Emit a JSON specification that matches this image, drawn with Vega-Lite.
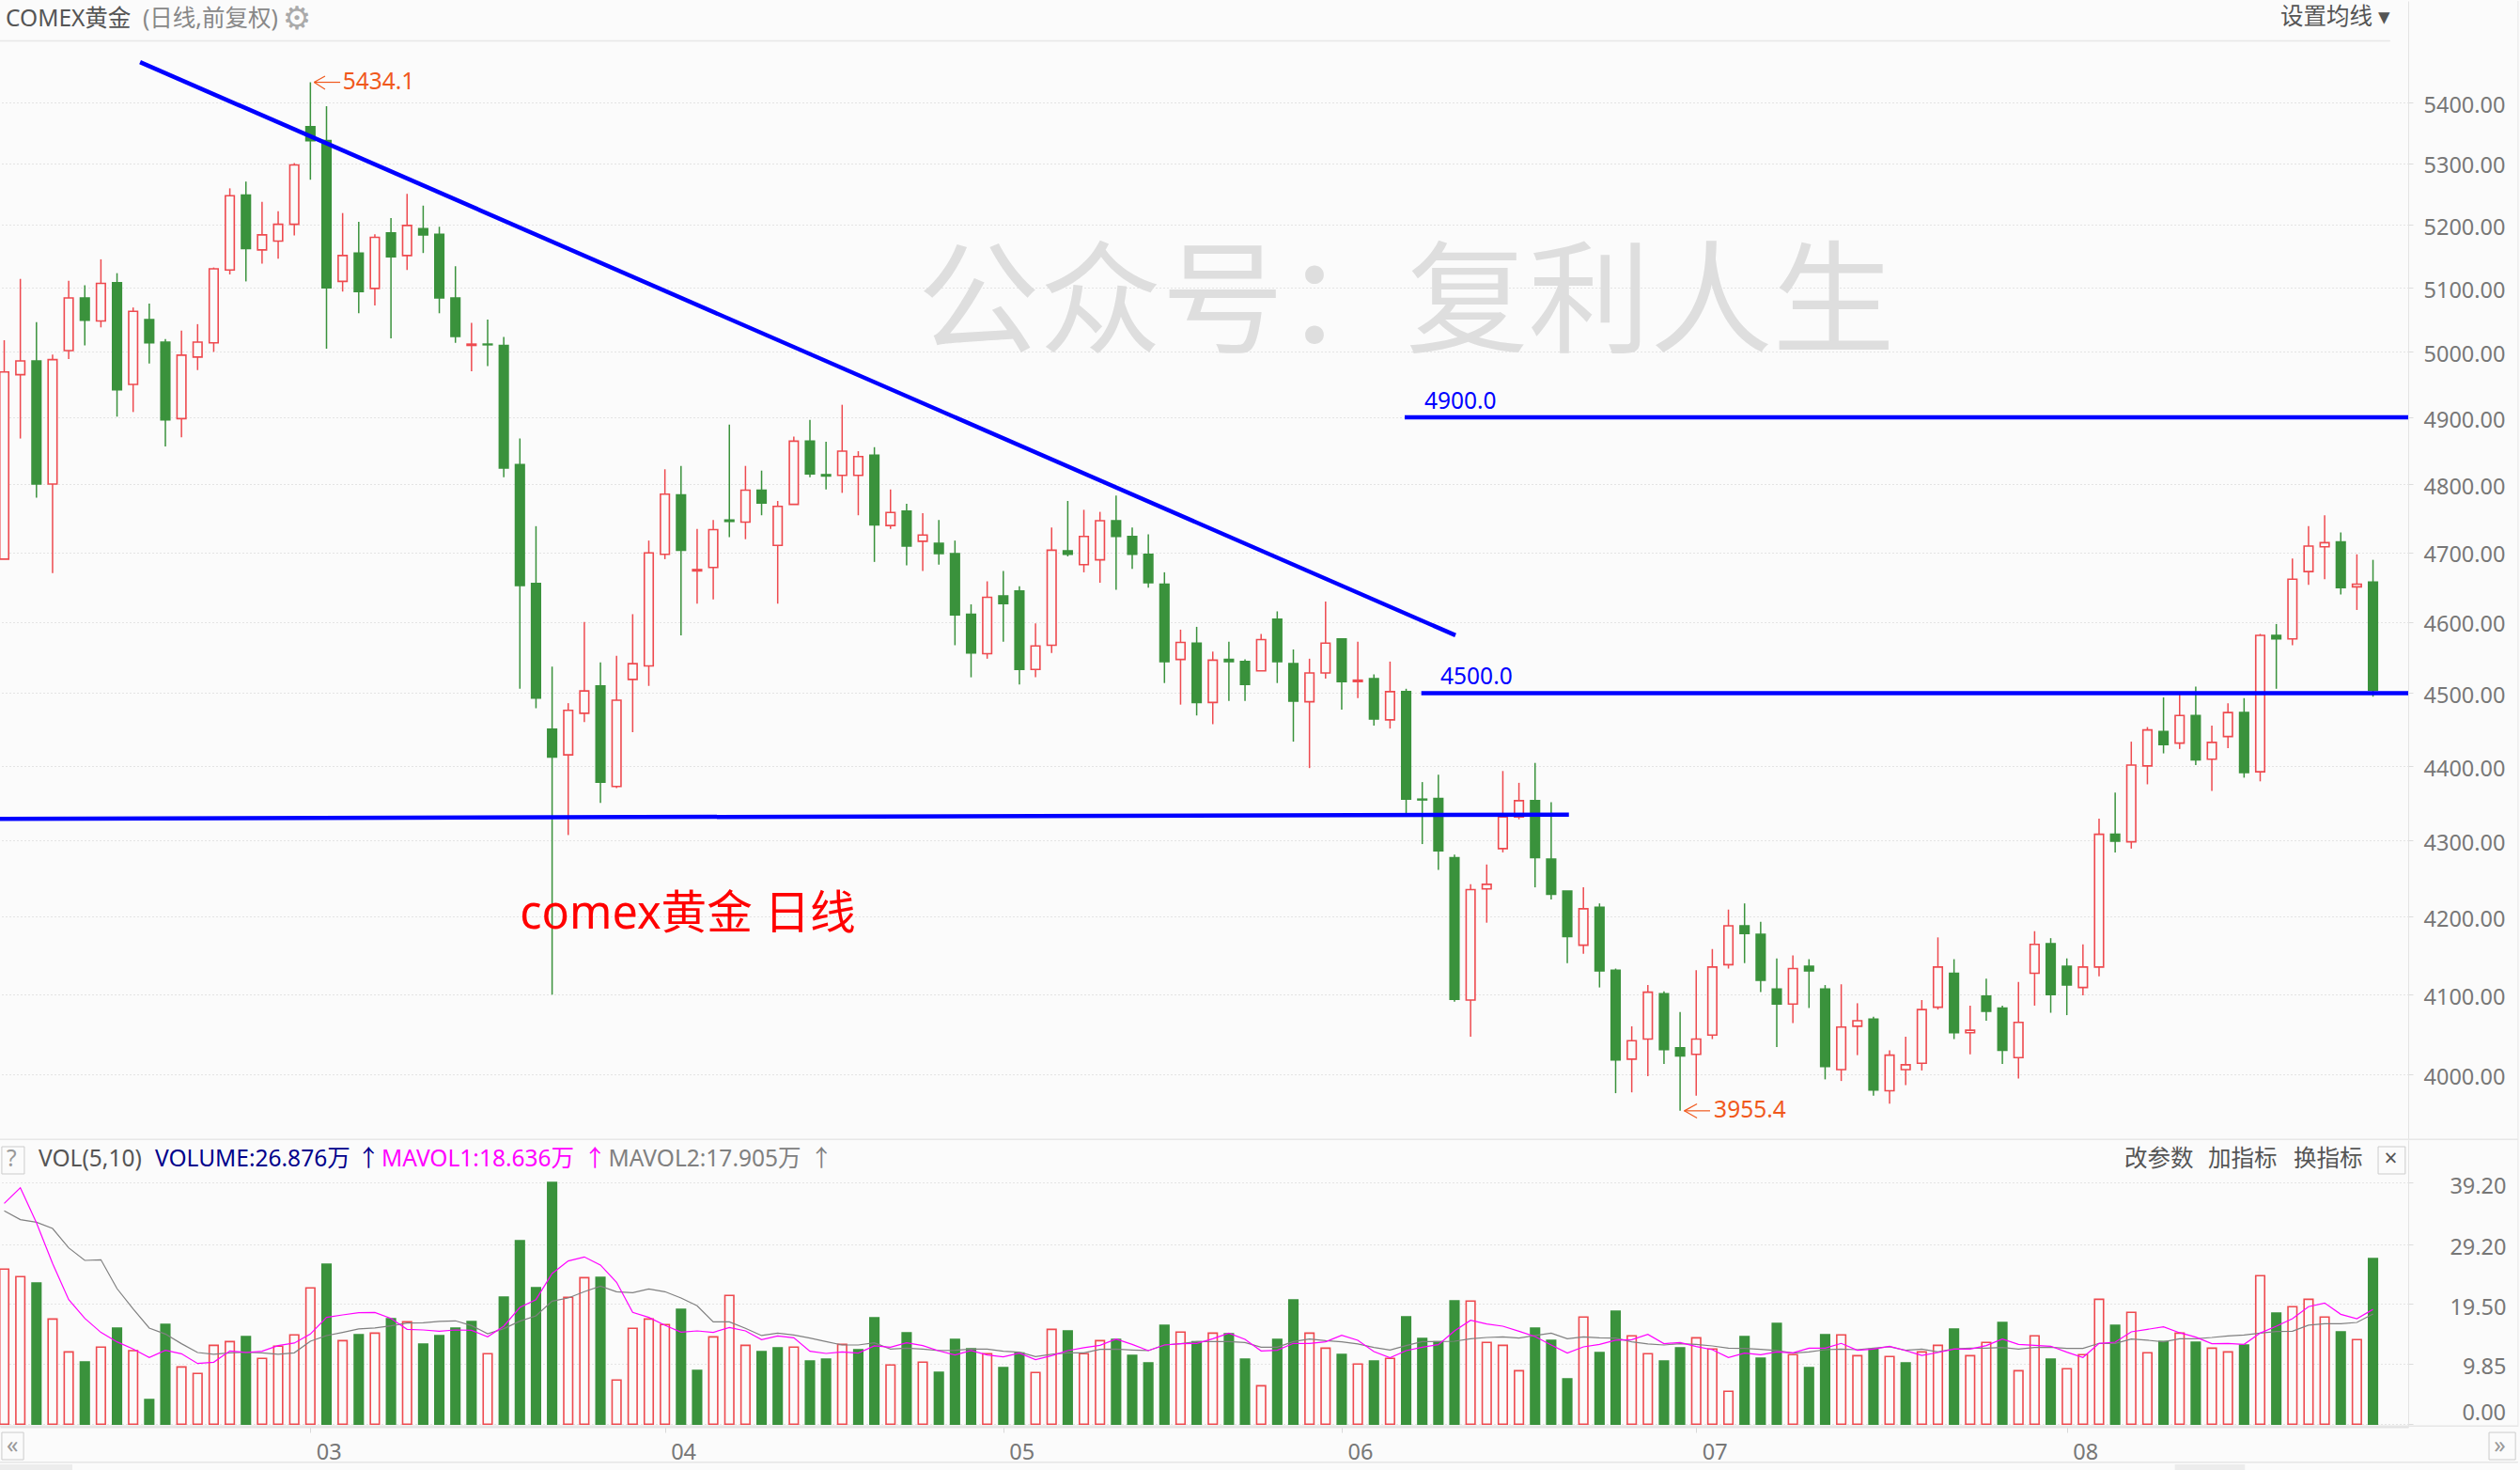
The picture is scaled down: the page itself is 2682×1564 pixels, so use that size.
{"$schema":"https://vega.github.io/schema/vega-lite/v6.json","background":"#fbfbfb","padding":0,"spacing":0,"bounds":"flush","config":{"view":{"stroke":null},"text":{"font":"Noto Sans, Noto Sans CJK SC"},"axis":{"labelFont":"Noto Sans"},"concat":{"spacing":0}},
"datasets":{"bars":[
{"i":0,"o":4690,"h":5018,"l":4690,"c":4969,"d":"up","vd":"up","v":25.17,"m1":35.84,"m2":34.62},
{"i":1,"o":4965,"h":5114,"l":4868,"c":4986,"d":"up","vd":"up","v":23.95,"m1":38.38,"m2":33.2},
{"i":2,"o":4986,"h":5046,"l":4780,"c":4800,"d":"down","vd":"down","v":22.93,"m1":32.69,"m2":32.79},
{"i":3,"o":4800,"h":4996,"l":4670,"c":4988,"d":"up","vd":"up","v":17.08,"m1":26.08,"m2":31.77},
{"i":4,"o":5002,"h":5111,"l":4989,"c":5084,"d":"up","vd":"up","v":11.74,"m1":20.23,"m2":28.62},
{"i":5,"o":5084,"h":5104,"l":5010,"c":5049,"d":"down","vd":"down","v":10.12,"m1":17.18,"m2":26.59},
{"i":6,"o":5048,"h":5145,"l":5038,"c":5107,"d":"up","vd":"up","v":12.51,"m1":14.9,"m2":26.69},
{"i":7,"o":5108,"h":5123,"l":4901,"c":4942,"d":"down","vd":"down","v":15.61,"m1":13.37,"m2":22.01},
{"i":8,"o":4950,"h":5069,"l":4908,"c":5063,"d":"up","vd":"up","v":11.95,"m1":12.2,"m2":18.71},
{"i":9,"o":5050,"h":5075,"l":4982,"c":5014,"d":"down","vd":"down","v":4.02,"m1":10.83,"m2":15.61},
{"i":10,"o":5015,"h":5020,"l":4856,"c":4896,"d":"down","vd":"down","v":16.22,"m1":12.0,"m2":14.64},
{"i":11,"o":4898,"h":5033,"l":4870,"c":4995,"d":"up","vd":"up","v":9.3,"m1":11.44,"m2":13.07},
{"i":12,"o":4992,"h":5043,"l":4972,"c":5015,"d":"up","vd":"up","v":8.24,"m1":9.86,"m2":11.64},
{"i":13,"o":5014,"h":5132,"l":5000,"c":5130,"d":"up","vd":"up","v":12.81,"m1":10.07,"m2":11.34},
{"i":14,"o":5128,"h":5259,"l":5121,"c":5247,"d":"up","vd":"up","v":13.42,"m1":11.9,"m2":11.59},
{"i":15,"o":5248,"h":5270,"l":5110,"c":5162,"d":"down","vd":"down","v":14.24,"m1":11.64,"m2":11.69},
{"i":16,"o":5160,"h":5237,"l":5138,"c":5184,"d":"up","vd":"up","v":10.68,"m1":11.85,"m2":11.59},
{"i":17,"o":5174,"h":5222,"l":5146,"c":5201,"d":"up","vd":"up","v":12.66,"m1":12.76,"m2":11.34},
{"i":18,"o":5201,"h":5300,"l":5183,"c":5297,"d":"up","vd":"up","v":14.49,"m1":13.17,"m2":11.59},
{"i":19,"o":5360,"h":5434.1,"l":5273,"c":5337,"d":"down","vd":"up","v":22.12,"m1":14.64,"m2":13.47},
{"i":20,"o":5337,"h":5394,"l":5005,"c":5100,"d":"down","vd":"down","v":25.98,"m1":17.34,"m2":14.39},
{"i":21,"o":5110,"h":5219,"l":5094,"c":5151,"d":"up","vd":"up","v":13.57,"m1":17.74,"m2":14.9},
{"i":22,"o":5155,"h":5205,"l":5060,"c":5094,"d":"down","vd":"down","v":14.54,"m1":18.1,"m2":15.46},
{"i":23,"o":5099,"h":5185,"l":5072,"c":5180,"d":"up","vd":"up","v":14.79,"m1":18.15,"m2":15.61},
{"i":24,"o":5187,"h":5211,"l":5021,"c":5149,"d":"down","vd":"down","v":17.13,"m1":17.18,"m2":15.96},
{"i":25,"o":5151,"h":5250,"l":5128,"c":5199,"d":"up","vd":"up","v":16.62,"m1":15.4,"m2":16.42},
{"i":26,"o":5194,"h":5231,"l":5155,"c":5184,"d":"down","vd":"down","v":13.02,"m1":15.3,"m2":16.47},
{"i":27,"o":5185,"h":5197,"l":5060,"c":5084,"d":"down","vd":"down","v":14.39,"m1":15.1,"m2":16.68},
{"i":28,"o":5084,"h":5134,"l":5014,"c":5024,"d":"down","vd":"down","v":15.61,"m1":15.3,"m2":16.78},
{"i":29,"o":5010,"h":5045,"l":4970,"c":5012,"d":"up","vd":"down","v":16.68,"m1":15.25,"m2":16.01},
{"i":30,"o":5012,"h":5050,"l":4978,"c":5011,"d":"down","vd":"up","v":11.44,"m1":14.18,"m2":14.69},
{"i":31,"o":5010,"h":5023,"l":4810,"c":4824,"d":"down","vd":"down","v":20.64,"m1":15.91,"m2":15.51},
{"i":32,"o":4829,"h":4868,"l":4506,"c":4652,"d":"down","vd":"down","v":29.79,"m1":18.96,"m2":16.73},
{"i":33,"o":4655,"h":4738,"l":4479,"c":4493,"d":"down","vd":"down","v":22.17,"m1":20.23,"m2":17.59},
{"i":34,"o":4450,"h":4537,"l":4100,"c":4412,"d":"down","vd":"down","v":39.25,"m1":24.45,"m2":19.98},
{"i":35,"o":4415,"h":4486,"l":4307,"c":4476,"d":"up","vd":"up","v":20.59,"m1":26.49,"m2":20.49},
{"i":36,"o":4472,"h":4600,"l":4460,"c":4503,"d":"up","vd":"up","v":23.79,"m1":27.15,"m2":21.51},
{"i":37,"o":4510,"h":4543,"l":4350,"c":4378,"d":"down","vd":"down","v":23.84,"m1":25.83,"m2":22.42},
{"i":38,"o":4372,"h":4552,"l":4370,"c":4490,"d":"up","vd":"up","v":7.17,"m1":23.03,"m2":21.51},
{"i":39,"o":4519,"h":4611,"l":4446,"c":4541,"d":"up","vd":"up","v":15.56,"m1":18.15,"m2":21.35},
{"i":40,"o":4538,"h":4717,"l":4510,"c":4699,"d":"up","vd":"up","v":17.08,"m1":17.34,"m2":21.96},
{"i":41,"o":4697,"h":4822,"l":4690,"c":4785,"d":"up","vd":"up","v":16.17,"m1":16.07,"m2":21.51},
{"i":42,"o":4784,"h":4827,"l":4581,"c":4703,"d":"down","vd":"down","v":18.66,"m1":14.95,"m2":20.49},
{"i":43,"o":4673,"h":4734,"l":4626,"c":4675,"d":"up","vd":"down","v":8.74,"m1":15.15,"m2":19.22},
{"i":44,"o":4678,"h":4747,"l":4632,"c":4733,"d":"up","vd":"up","v":14.18,"m1":14.9,"m2":16.62},
{"i":45,"o":4747,"h":4889,"l":4722,"c":4745,"d":"down","vd":"up","v":20.9,"m1":15.71,"m2":16.62},
{"i":46,"o":4744,"h":4827,"l":4719,"c":4791,"d":"up","vd":"up","v":12.81,"m1":15.15,"m2":15.56},
{"i":47,"o":4791,"h":4820,"l":4754,"c":4772,"d":"down","vd":"down","v":11.79,"m1":13.73,"m2":14.39},
{"i":48,"o":4710,"h":4775,"l":4626,"c":4767,"d":"up","vd":"down","v":12.41,"m1":14.34,"m2":14.79},
{"i":49,"o":4770,"h":4871,"l":4770,"c":4864,"d":"up","vd":"up","v":12.51,"m1":14.03,"m2":14.49},
{"i":50,"o":4864,"h":4896,"l":4810,"c":4815,"d":"down","vd":"down","v":10.27,"m1":11.85,"m2":13.98},
{"i":51,"o":4814,"h":4863,"l":4792,"c":4812,"d":"down","vd":"down","v":10.57,"m1":11.49,"m2":13.42},
{"i":52,"o":4813,"h":4919,"l":4787,"c":4849,"d":"up","vd":"up","v":12.96,"m1":11.74,"m2":12.86},
{"i":53,"o":4813,"h":4849,"l":4754,"c":4841,"d":"up","vd":"down","v":12.1,"m1":11.54,"m2":12.86},
{"i":54,"o":4843,"h":4855,"l":4686,"c":4740,"d":"down","vd":"down","v":17.29,"m1":12.71,"m2":13.22},
{"i":55,"o":4739,"h":4792,"l":4734,"c":4758,"d":"up","vd":"up","v":9.61,"m1":12.51,"m2":12.2},
{"i":56,"o":4760,"h":4771,"l":4681,"c":4709,"d":"down","vd":"down","v":14.85,"m1":13.22,"m2":12.35},
{"i":57,"o":4716,"h":4757,"l":4673,"c":4725,"d":"up","vd":"up","v":10.07,"m1":12.76,"m2":12.2},
{"i":58,"o":4713,"h":4747,"l":4682,"c":4698,"d":"down","vd":"down","v":8.44,"m1":11.9,"m2":11.95},
{"i":59,"o":4698,"h":4717,"l":4567,"c":4610,"d":"down","vd":"down","v":13.78,"m1":11.24,"m2":12.0},
{"i":60,"o":4611,"h":4625,"l":4522,"c":4556,"d":"down","vd":"down","v":12.25,"m1":11.95,"m2":12.2},
{"i":61,"o":4555,"h":4658,"l":4548,"c":4635,"d":"up","vd":"up","v":11.44,"m1":11.24,"m2":12.2},
{"i":62,"o":4637,"h":4673,"l":4572,"c":4626,"d":"down","vd":"down","v":9.2,"m1":10.93,"m2":11.85},
{"i":63,"o":4644,"h":4651,"l":4512,"c":4533,"d":"down","vd":"down","v":11.54,"m1":11.54,"m2":11.69},
{"i":64,"o":4533,"h":4598,"l":4522,"c":4566,"d":"up","vd":"up","v":8.39,"m1":10.47,"m2":10.98},
{"i":65,"o":4567,"h":4736,"l":4556,"c":4703,"d":"up","vd":"up","v":15.4,"m1":11.13,"m2":11.34},
{"i":66,"o":4702,"h":4775,"l":4694,"c":4697,"d":"down","vd":"down","v":15.15,"m1":11.95,"m2":11.59},
{"i":67,"o":4682,"h":4762,"l":4671,"c":4723,"d":"up","vd":"up","v":11.44,"m1":12.41,"m2":11.59},
{"i":68,"o":4689,"h":4759,"l":4656,"c":4746,"d":"up","vd":"up","v":13.57,"m1":12.81,"m2":12.15},
{"i":69,"o":4746,"h":4783,"l":4646,"c":4723,"d":"down","vd":"down","v":13.78,"m1":13.83,"m2":12.2},
{"i":70,"o":4723,"h":4736,"l":4676,"c":4697,"d":"down","vd":"down","v":11.18,"m1":12.96,"m2":12.05},
{"i":71,"o":4697,"h":4726,"l":4649,"c":4656,"d":"down","vd":"down","v":9.96,"m1":11.95,"m2":11.95},
{"i":72,"o":4654,"h":4671,"l":4514,"c":4544,"d":"down","vd":"down","v":16.07,"m1":12.86,"m2":12.86},
{"i":73,"o":4547,"h":4589,"l":4484,"c":4571,"d":"up","vd":"up","v":14.95,"m1":13.07,"m2":13.07},
{"i":74,"o":4570,"h":4593,"l":4469,"c":4487,"d":"down","vd":"down","v":13.37,"m1":13.12,"m2":13.42},
{"i":75,"o":4487,"h":4558,"l":4457,"c":4546,"d":"up","vd":"up","v":14.79,"m1":13.88,"m2":13.42},
{"i":76,"o":4547,"h":4572,"l":4489,"c":4544,"d":"down","vd":"down","v":14.69,"m1":14.79,"m2":13.42},
{"i":77,"o":4544,"h":4547,"l":4489,"c":4512,"d":"down","vd":"down","v":10.57,"m1":13.78,"m2":13.27},
{"i":78,"o":4531,"h":4583,"l":4531,"c":4575,"d":"up","vd":"up","v":6.25,"m1":11.9,"m2":12.51},
{"i":79,"o":4604,"h":4615,"l":4514,"c":4544,"d":"down","vd":"down","v":13.78,"m1":12.0,"m2":12.51},
{"i":80,"o":4541,"h":4561,"l":4433,"c":4489,"d":"down","vd":"down","v":20.18,"m1":13.12,"m2":13.42},
{"i":81,"o":4488,"h":4548,"l":4397,"c":4528,"d":"up","vd":"up","v":14.79,"m1":13.12,"m2":13.83},
{"i":82,"o":4528,"h":4629,"l":4520,"c":4570,"d":"up","vd":"up","v":12.35,"m1":13.37,"m2":13.57},
{"i":83,"o":4576,"h":4577,"l":4477,"c":4516,"d":"down","vd":"down","v":11.34,"m1":14.44,"m2":13.37},
{"i":84,"o":4516,"h":4572,"l":4493,"c":4518,"d":"up","vd":"up","v":9.76,"m1":13.63,"m2":13.02},
{"i":85,"o":4520,"h":4526,"l":4455,"c":4464,"d":"down","vd":"down","v":10.27,"m1":11.79,"m2":12.46},
{"i":86,"o":4463,"h":4544,"l":4451,"c":4502,"d":"up","vd":"up","v":10.68,"m1":10.78,"m2":12.05},
{"i":87,"o":4502,"h":4506,"l":4336,"c":4355,"d":"down","vd":"down","v":17.44,"m1":11.95,"m2":12.76},
{"i":88,"o":4355,"h":4378,"l":4295,"c":4354,"d":"down","vd":"down","v":13.93,"m1":12.51,"m2":13.42},
{"i":89,"o":4356,"h":4388,"l":4261,"c":4286,"d":"down","vd":"down","v":13.37,"m1":12.91,"m2":13.42},
{"i":90,"o":4277,"h":4281,"l":4091,"c":4094,"d":"down","vd":"down","v":20.03,"m1":15.15,"m2":13.47},
{"i":91,"o":4093,"h":4242,"l":4047,"c":4235,"d":"up","vd":"up","v":19.98,"m1":16.88,"m2":13.88},
{"i":92,"o":4236,"h":4268,"l":4192,"c":4242,"d":"up","vd":"up","v":13.27,"m1":16.27,"m2":14.08},
{"i":93,"o":4289,"h":4393,"l":4284,"c":4331,"d":"up","vd":"up","v":12.81,"m1":15.91,"m2":14.18},
{"i":94,"o":4331,"h":4377,"l":4328,"c":4353,"d":"up","vd":"up","v":8.69,"m1":15.1,"m2":13.98},
{"i":95,"o":4353,"h":4404,"l":4238,"c":4277,"d":"down","vd":"down","v":15.61,"m1":14.24,"m2":14.39},
{"i":96,"o":4275,"h":4351,"l":4222,"c":4229,"d":"down","vd":"down","v":13.63,"m1":12.86,"m2":14.79},
{"i":97,"o":4233,"h":4233,"l":4140,"c":4174,"d":"down","vd":"down","v":7.37,"m1":11.54,"m2":13.88},
{"i":98,"o":4163,"h":4238,"l":4152,"c":4210,"d":"up","vd":"up","v":17.39,"m1":12.56,"m2":14.18},
{"i":99,"o":4212,"h":4217,"l":4109,"c":4130,"d":"down","vd":"down","v":11.64,"m1":12.96,"m2":14.03},
{"i":100,"o":4131,"h":4133,"l":3977,"c":4018,"d":"down","vd":"down","v":18.35,"m1":13.63,"m2":13.98},
{"i":101,"o":4019,"h":4060,"l":3978,"c":4042,"d":"up","vd":"up","v":14.34,"m1":13.73,"m2":13.37},
{"i":102,"o":4044,"h":4112,"l":3998,"c":4103,"d":"up","vd":"up","v":11.44,"m1":14.59,"m2":13.02},
{"i":103,"o":4101,"h":4104,"l":4013,"c":4031,"d":"down","vd":"down","v":10.27,"m1":13.07,"m2":12.86},
{"i":104,"o":4033,"h":4078,"l":3955.4,"c":4023,"d":"down","vd":"down","v":12.41,"m1":13.27,"m2":13.07},
{"i":105,"o":4025,"h":4131,"l":3974,"c":4044,"d":"up","vd":"up","v":14.03,"m1":12.61,"m2":12.96},
{"i":106,"o":4049,"h":4158,"l":4044,"c":4135,"d":"up","vd":"up","v":12.2,"m1":12.1,"m2":12.71},
{"i":107,"o":4138,"h":4209,"l":4133,"c":4188,"d":"up","vd":"up","v":5.34,"m1":10.83,"m2":12.35},
{"i":108,"o":4188,"h":4217,"l":4140,"c":4178,"d":"down","vd":"down","v":14.24,"m1":11.54,"m2":12.3},
{"i":109,"o":4177,"h":4193,"l":4103,"c":4118,"d":"down","vd":"down","v":10.73,"m1":11.29,"m2":12.15},
{"i":110,"o":4107,"h":4146,"l":4034,"c":4088,"d":"down","vd":"down","v":16.37,"m1":11.74,"m2":11.95},
{"i":111,"o":4088,"h":4150,"l":4064,"c":4133,"d":"up","vd":"up","v":11.29,"m1":11.59,"m2":11.54},
{"i":112,"o":4136,"h":4145,"l":4083,"c":4130,"d":"down","vd":"down","v":9.2,"m1":12.35,"m2":11.74},
{"i":113,"o":4107,"h":4112,"l":3994,"c":4010,"d":"down","vd":"down","v":14.54,"m1":12.35,"m2":12.1},
{"i":114,"o":4006,"h":4113,"l":3992,"c":4059,"d":"up","vd":"up","v":14.49,"m1":13.12,"m2":12.2},
{"i":115,"o":4060,"h":4089,"l":4024,"c":4067,"d":"up","vd":"up","v":11.13,"m1":12.0,"m2":12.1},
{"i":116,"o":4069,"h":4072,"l":3974,"c":3981,"d":"down","vd":"down","v":12.15,"m1":12.2,"m2":12.35},
{"i":117,"o":3980,"h":4030,"l":3964,"c":4024,"d":"up","vd":"up","v":10.98,"m1":12.66,"m2":12.56},
{"i":118,"o":4006,"h":4047,"l":3987,"c":4012,"d":"up","vd":"down","v":9.96,"m1":11.95,"m2":12.0},
{"i":119,"o":4014,"h":4093,"l":4005,"c":4081,"d":"up","vd":"up","v":11.74,"m1":11.18,"m2":12.2},
{"i":120,"o":4084,"h":4173,"l":4081,"c":4135,"d":"up","vd":"up","v":12.81,"m1":11.64,"m2":11.74},
{"i":121,"o":4127,"h":4145,"l":4044,"c":4052,"d":"down","vd":"down","v":15.46,"m1":12.2,"m2":12.25},
{"i":122,"o":4052,"h":4086,"l":4025,"c":4055,"d":"up","vd":"up","v":11.13,"m1":12.2,"m2":12.35},
{"i":123,"o":4098,"h":4120,"l":4067,"c":4079,"d":"down","vd":"up","v":13.27,"m1":12.76,"m2":12.35},
{"i":124,"o":4083,"h":4086,"l":4013,"c":4030,"d":"down","vd":"down","v":16.52,"m1":13.83,"m2":12.46},
{"i":125,"o":4021,"h":4116,"l":3995,"c":4065,"d":"up","vd":"up","v":8.69,"m1":12.96,"m2":12.2},
{"i":126,"o":4127,"h":4181,"l":4086,"c":4164,"d":"up","vd":"up","v":14.34,"m1":12.81,"m2":12.46},
{"i":127,"o":4165,"h":4172,"l":4077,"c":4100,"d":"down","vd":"down","v":10.57,"m1":12.66,"m2":12.51},
{"i":128,"o":4136,"h":4146,"l":4074,"c":4112,"d":"down","vd":"up","v":9.0,"m1":11.69,"m2":12.3},
{"i":129,"o":4109,"h":4164,"l":4099,"c":4135,"d":"up","vd":"up","v":11.29,"m1":10.83,"m2":12.3},
{"i":130,"o":4135,"h":4329,"l":4123,"c":4308,"d":"up","vd":"up","v":20.28,"m1":13.12,"m2":13.12},
{"i":131,"o":4308,"h":4364,"l":4284,"c":4299,"d":"down","vd":"down","v":16.07,"m1":13.32,"m2":13.12},
{"i":132,"o":4298,"h":4433,"l":4289,"c":4401,"d":"up","vd":"up","v":18.15,"m1":15.0,"m2":13.83},
{"i":133,"o":4400,"h":4453,"l":4375,"c":4449,"d":"up","vd":"up","v":11.59,"m1":15.4,"m2":13.63},
{"i":134,"o":4447,"h":4494,"l":4417,"c":4429,"d":"down","vd":"down","v":13.42,"m1":15.81,"m2":13.37},
{"i":135,"o":4431,"h":4498,"l":4423,"c":4469,"d":"up","vd":"up","v":14.79,"m1":14.85,"m2":13.88},
{"i":136,"o":4469,"h":4509,"l":4401,"c":4408,"d":"down","vd":"down","v":13.32,"m1":14.13,"m2":13.88},
{"i":137,"o":4409,"h":4455,"l":4366,"c":4432,"d":"up","vd":"up","v":12.35,"m1":13.07,"m2":14.08},
{"i":138,"o":4440,"h":4486,"l":4424,"c":4473,"d":"up","vd":"up","v":11.74,"m1":13.12,"m2":14.34},
{"i":139,"o":4473,"h":4493,"l":4384,"c":4391,"d":"down","vd":"down","v":12.86,"m1":12.96,"m2":14.49},
{"i":140,"o":4392,"h":4583,"l":4379,"c":4581,"d":"up","vd":"up","v":24.1,"m1":14.79,"m2":14.79},
{"i":141,"o":4581,"h":4597,"l":4506,"c":4576,"d":"down","vd":"down","v":18.05,"m1":15.91,"m2":15.05},
{"i":142,"o":4576,"h":4691,"l":4567,"c":4661,"d":"up","vd":"up","v":19.07,"m1":17.13,"m2":15.1},
{"i":143,"o":4672,"h":4738,"l":4653,"c":4709,"d":"up","vd":"up","v":20.28,"m1":19.07,"m2":16.07},
{"i":144,"o":4708,"h":4754,"l":4661,"c":4714,"d":"up","vd":"up","v":17.39,"m1":19.67,"m2":16.32},
{"i":145,"o":4715,"h":4729,"l":4639,"c":4649,"d":"down","vd":"down","v":15.0,"m1":17.84,"m2":16.32},
{"i":146,"o":4650,"h":4697,"l":4617,"c":4654,"d":"up","vd":"up","v":13.73,"m1":17.13,"m2":16.52},
{"i":147,"o":4657,"h":4689,"l":4495,"c":4504,"d":"down","vd":"down","v":26.876,"m1":18.636,"m2":17.905}
]},
"vconcat":[
{"width":2563,"height":1212,"resolve":{"scale":{"color":"independent"}},"layer":[
{"data":{"values":[{"t":"公众号：复利人生","i":87,"p":5071}]},"mark":{"type":"text","font":"Noto Sans CJK SC","fontSize":130,"color":"#dedede","align":"center","baseline":"middle"},"encoding":{"x":{"field":"i","type":"quantitative","scale":{"domain":[-0.2624,149.184],"nice":false,"zero":false,"padding":0},"axis":null},"y":{"field":"p","type":"quantitative","scale":{"type":"log","domain":[3919.8,5572.3],"nice":false},"axis":{"orient":"right","title":null,"values":[4000,4100,4200,4300,4400,4500,4600,4700,4800,4900,5000,5100,5200,5300,5400],"format":".2f","grid":true,"gridColor":"#cccccc","gridDash":[1,3],"tickColor":"#dcdcdc","tickSize":5,"domainColor":"#e3e3e3","labelColor":"#777777","labelFontSize":23.5,"labelPadding":11,"labelOffset":3.3,"labelOverlap":false,"labelBound":false,"minExtent":119,"maxExtent":119}},"text":{"field":"t"}}},
{"data":{"values":[{"i":-0.2624,"i2":148.07,"p":5505.2,"p2":5502.8},{"i":-0.2624,"i2":156,"p":3919.8,"p2":3921.5}]},"mark":{"type":"rect","fill":"#e8e8e8"},"encoding":{"x":{"field":"i","type":"quantitative","scale":{"domain":[-0.2624,149.184],"nice":false,"zero":false,"padding":0},"axis":null},"x2":{"field":"i2"},"y":{"field":"p","type":"quantitative","scale":{"type":"log","domain":[3919.8,5572.3],"nice":false},"axis":{"title":null}},"y2":{"field":"p2"}}},
{"data":{"values":[{"i":156}]},"mark":{"type":"rule","color":"#e8e8e8","strokeWidth":1},"encoding":{"x":{"field":"i","type":"quantitative","scale":{"domain":[-0.2624,149.184],"nice":false,"zero":false,"padding":0},"axis":null}}},
{"data":{"name":"bars"},"mark":{"type":"rule","strokeWidth":1.5},"encoding":{"x":{"field":"i","type":"quantitative","scale":{"domain":[-0.2624,149.184],"nice":false,"zero":false,"padding":0},"axis":null},"y":{"field":"l","type":"quantitative","scale":{"type":"log","domain":[3919.8,5572.3],"nice":false},"axis":{"title":null}},"y2":{"field":"h"},"color":{"field":"d","type":"nominal","scale":{"domain":["up","down"],"range":["#ee4a4f","#3a923c"]},"legend":null}}},
{"data":{"name":"bars"},"mark":{"type":"bar","size":9.5,"strokeWidth":1.6,"orient":"vertical","clip":true},"encoding":{"x":{"field":"i","type":"quantitative","scale":{"domain":[-0.2624,149.184],"nice":false,"zero":false,"padding":0},"axis":null},"y":{"field":"o","type":"quantitative","scale":{"type":"log","domain":[3919.8,5572.3],"nice":false},"axis":{"title":null}},"y2":{"field":"c"},"fill":{"field":"d","type":"nominal","scale":{"domain":["up","down"],"range":["#fbfbfb","#3a923c"]},"legend":null},"stroke":{"field":"d","type":"nominal","scale":{"domain":["up","down"],"range":["#ee4a4f","#3a923c"]},"legend":null}}},
{"data":{"values":[{"seg":"trend","i":8.43,"p":5468},{"seg":"trend","i":90.06,"p":4581},{"seg":"support","i":-0.2624,"p":4328.6},{"seg":"support","i":97.1,"p":4334.3},{"seg":"r4900","i":86.91,"p":4900},{"seg":"r4900","i":149.184,"p":4900},{"seg":"r4500","i":87.94,"p":4500},{"seg":"r4500","i":149.184,"p":4500}]},"mark":{"type":"line","color":"#0000ff","strokeWidth":4.5,"strokeCap":"butt","clip":true},"encoding":{"x":{"field":"i","type":"quantitative","scale":{"domain":[-0.2624,149.184],"nice":false,"zero":false,"padding":0},"axis":null},"y":{"field":"p","type":"quantitative","scale":{"type":"log","domain":[3919.8,5572.3],"nice":false},"axis":{"title":null}},"detail":{"field":"seg"}}},
{"data":{"values":[{"seg":"a1","i":19.23,"p":5434.1},{"seg":"a1","i":20.85,"p":5434.1},{"seg":"a1u","i":19.23,"p":5434.1},{"seg":"a1u","i":19.91,"p":5444.4},{"seg":"a1d","i":19.23,"p":5434.1},{"seg":"a1d","i":19.91,"p":5422.3},{"seg":"a2","i":104.26,"p":3955.4},{"seg":"a2","i":105.86,"p":3955.4},{"seg":"a2u","i":104.26,"p":3955.4},{"seg":"a2u","i":105.05,"p":3963.8},{"seg":"a2d","i":104.26,"p":3955.4},{"seg":"a2d","i":105.05,"p":3946.6}]},"mark":{"type":"line","color":"#f0581c","strokeWidth":1.2},"encoding":{"x":{"field":"i","type":"quantitative","scale":{"domain":[-0.2624,149.184],"nice":false,"zero":false,"padding":0},"axis":null},"y":{"field":"p","type":"quantitative","scale":{"type":"log","domain":[3919.8,5572.3],"nice":false},"axis":{"title":null}},"detail":{"field":"seg"}}},
{"data":{"values":[{"t":"COMEX黄金","i":0.09,"p":5540,"kind":"title"},{"t":"(日线,前复权)","i":8.6,"p":5540,"kind":"sub"},{"t":"设置均线","i":141.25,"p":5543,"kind":"title"},{"t":"▾","i":147.3,"p":5543,"kind":"title"},{"t":"5434.1","i":21.0,"p":5434.1,"kind":"extreme"},{"t":"3955.4","i":106.1,"p":3955.4,"kind":"extreme"},{"t":"4900.0","i":88.13,"p":4923,"kind":"level"},{"t":"4500.0","i":89.13,"p":4521,"kind":"level"}]},"mark":{"type":"text","fontSize":24.5,"align":"left","baseline":"middle"},"encoding":{"x":{"field":"i","type":"quantitative","scale":{"domain":[-0.2624,149.184],"nice":false,"zero":false,"padding":0},"axis":null},"y":{"field":"p","type":"quantitative","scale":{"type":"log","domain":[3919.8,5572.3],"nice":false},"axis":{"title":null}},"text":{"field":"t"},"color":{"field":"kind","type":"nominal","scale":{"domain":["title","sub","extreme","level"],"range":["#555555","#888888","#f0581c","#0000ff"]},"legend":null}}},
{"data":{"values":[{"t":"⚙","i":18.16,"p":5540}]},"mark":{"type":"text","font":"DejaVu Sans","fontSize":34,"color":"#aaaaaa","align":"center","baseline":"middle"},"encoding":{"x":{"field":"i","type":"quantitative","scale":{"domain":[-0.2624,149.184],"nice":false,"zero":false,"padding":0},"axis":null},"y":{"field":"p","type":"quantitative","scale":{"type":"log","domain":[3919.8,5572.3],"nice":false},"axis":{"title":null}},"text":{"field":"t"}}},
{"data":{"values":[{"t":"comex黄金 日线","i":32,"p":4203}]},"mark":{"type":"text","fontSize":48.6,"color":"#ff0000","align":"left","baseline":"middle"},"encoding":{"x":{"field":"i","type":"quantitative","scale":{"domain":[-0.2624,149.184],"nice":false,"zero":false,"padding":0},"axis":null},"y":{"field":"p","type":"quantitative","scale":{"type":"log","domain":[3919.8,5572.3],"nice":false},"axis":{"title":null}},"text":{"field":"t"}}}
]},
{"width":2563,"height":305,"layer":[
{"data":{"name":"bars"},"mark":{"type":"bar","size":9.5,"strokeWidth":1.6,"orient":"vertical","clip":true},"encoding":{"x":{"field":"i","type":"quantitative","scale":{"domain":[-0.2624,149.184],"nice":false,"zero":false,"padding":0},"axis":{"title":null,"values":[19,41,62,83,105,128],"labelExpr":"['03','04','05','06','07','08'][indexof([19,41,62,83,105,128],datum.value)]","grid":false,"tickColor":"#d8d8d8","tickSize":6,"domainColor":"#e3e3e3","domainWidth":2,"labelColor":"#777777","labelFontSize":23.5,"labelAlign":"left","labelOffset":6,"labelPadding":9,"labelOverlap":false,"labelBound":false}},"y":{"field":"v","type":"quantitative","scale":{"domain":[-0.41,46.11],"nice":false,"zero":false},"axis":{"orient":"right","title":null,"values":[0,9.85,19.5,29.2,39.2],"labelExpr":"datum.value==0?'':format(datum.value,'.2f')","grid":true,"gridColor":"#cccccc","gridDash":[1,3],"tickColor":"#dcdcdc","tickSize":5,"domainColor":"#e3e3e3","labelColor":"#777777","labelFontSize":23.5,"labelAlign":"right","labelPadding":99,"labelOffset":4,"labelOverlap":false,"labelBound":false,"minExtent":119,"maxExtent":119}},"y2":{"datum":0},"fill":{"field":"vd","type":"nominal","scale":{"domain":["up","down"],"range":["#fbfbfb","#3a923c"]},"legend":null},"stroke":{"field":"vd","type":"nominal","scale":{"domain":["up","down"],"range":["#ee4a4f","#3a923c"]},"legend":null}}},
{"data":{"name":"bars"},"mark":{"type":"line","color":"#808080","strokeWidth":1.2},"encoding":{"x":{"field":"i","type":"quantitative","scale":{"domain":[-0.2624,149.184],"nice":false,"zero":false,"padding":0},"axis":{"title":null}},"y":{"field":"m2","type":"quantitative","scale":{"domain":[-0.41,46.11],"nice":false,"zero":false},"axis":{"title":null}}}},
{"data":{"name":"bars"},"mark":{"type":"line","color":"#ff00ff","strokeWidth":1.2},"encoding":{"x":{"field":"i","type":"quantitative","scale":{"domain":[-0.2624,149.184],"nice":false,"zero":false,"padding":0},"axis":{"title":null}},"y":{"field":"m1","type":"quantitative","scale":{"domain":[-0.41,46.11],"nice":false,"zero":false},"axis":{"title":null}}}},
{"data":{"values":[{"i":156}]},"mark":{"type":"rule","color":"#e8e8e8","strokeWidth":1},"encoding":{"x":{"field":"i","type":"quantitative","scale":{"domain":[-0.2624,149.184],"nice":false,"zero":false,"padding":0},"axis":{"title":null}}}},
{"data":{"values":[{"i":-0.2624,"i2":156,"v":-0.41,"v2":-0.18},{"i":-0.2624,"i2":156,"v":-6.06,"v2":-6.29}]},"mark":{"type":"rect","fill":"#e6e6e6"},"encoding":{"x":{"field":"i","type":"quantitative","scale":{"domain":[-0.2624,149.184],"nice":false,"zero":false,"padding":0},"axis":{"title":null}},"x2":{"field":"i2"},"y":{"field":"v","type":"quantitative","scale":{"domain":[-0.41,46.11],"nice":false,"zero":false},"axis":{"title":null}},"y2":{"field":"v2"}}},
{"data":{"values":[{"i":-0.15,"i2":1.25,"v":45.04,"v2":40.62},{"i":147.32,"i2":149.0,"v":45.04,"v2":40.62},{"i":-0.15,"i2":1.2,"v":-1.33,"v2":-5.75},{"i":154.2,"i2":155.84,"v":-1.33,"v2":-5.75}]},"mark":{"type":"rect","fill":"#fbfbfb","stroke":"#cccccc","strokeWidth":1},"encoding":{"x":{"field":"i","type":"quantitative","scale":{"domain":[-0.2624,149.184],"nice":false,"zero":false,"padding":0},"axis":{"title":null}},"x2":{"field":"i2"},"y":{"field":"v","type":"quantitative","scale":{"domain":[-0.41,46.11],"nice":false,"zero":false},"axis":{"title":null}},"y2":{"field":"v2"}}},
{"data":{"values":[{"i":-0.2624,"i2":4.23,"v":-6.5,"v2":-7.58},{"i":134.7,"i2":139.05,"v":-6.5,"v2":-7.58}]},"mark":{"type":"rect","fill":"#ececec"},"encoding":{"x":{"field":"i","type":"quantitative","scale":{"domain":[-0.2624,149.184],"nice":false,"zero":false,"padding":0},"axis":{"title":null}},"x2":{"field":"i2"},"y":{"field":"v","type":"quantitative","scale":{"domain":[-0.41,46.11],"nice":false,"zero":false},"axis":{"title":null}},"y2":{"field":"v2"}}},
{"data":{"values":[{"t":"?","i":0.15,"v":42.9,"kind":"control"},{"t":"VOL(5,10)","i":2.13,"v":42.9,"kind":"title"},{"t":"VOLUME:26.876万","i":9.36,"v":42.9,"kind":"volume"},{"t":"↑","i":21.9,"v":42.9,"kind":"volume"},{"t":"MAVOL1:18.636万","i":23.41,"v":42.9,"kind":"ma1"},{"t":"↑","i":35.95,"v":42.9,"kind":"ma1"},{"t":"MAVOL2:17.905万","i":37.49,"v":42.9,"kind":"ma2"},{"t":"↑","i":50.0,"v":42.9,"kind":"ma2"},{"t":"改参数","i":131.57,"v":42.9,"kind":"title"},{"t":"加指标","i":136.76,"v":42.9,"kind":"title"},{"t":"换指标","i":142.07,"v":42.9,"kind":"title"},{"t":"×","i":147.7,"v":42.9,"kind":"title"},{"t":"«","i":0.15,"v":-3.6,"kind":"control"},{"t":"»","i":154.5,"v":-3.6,"kind":"control"}]},"mark":{"type":"text","fontSize":24.5,"align":"left","baseline":"middle"},"encoding":{"x":{"field":"i","type":"quantitative","scale":{"domain":[-0.2624,149.184],"nice":false,"zero":false,"padding":0},"axis":{"title":null}},"y":{"field":"v","type":"quantitative","scale":{"domain":[-0.41,46.11],"nice":false,"zero":false},"axis":{"title":null}},"text":{"field":"t"},"color":{"field":"kind","type":"nominal","scale":{"domain":["title","control","volume","ma1","ma2"],"range":["#555555","#999999","#00008b","#ff00ff","#808080"]},"legend":null}}},
{"data":{"values":[{"t":"0.00","i":155.25,"v":1.72}]},"mark":{"type":"text","font":"Noto Sans","fontSize":23.5,"color":"#777777","align":"right","baseline":"middle"},"encoding":{"x":{"field":"i","type":"quantitative","scale":{"domain":[-0.2624,149.184],"nice":false,"zero":false,"padding":0},"axis":{"title":null}},"y":{"field":"v","type":"quantitative","scale":{"domain":[-0.41,46.11],"nice":false,"zero":false},"axis":{"title":null}},"text":{"field":"t"}}}
],"resolve":{"scale":{"color":"independent"}}}
]}
